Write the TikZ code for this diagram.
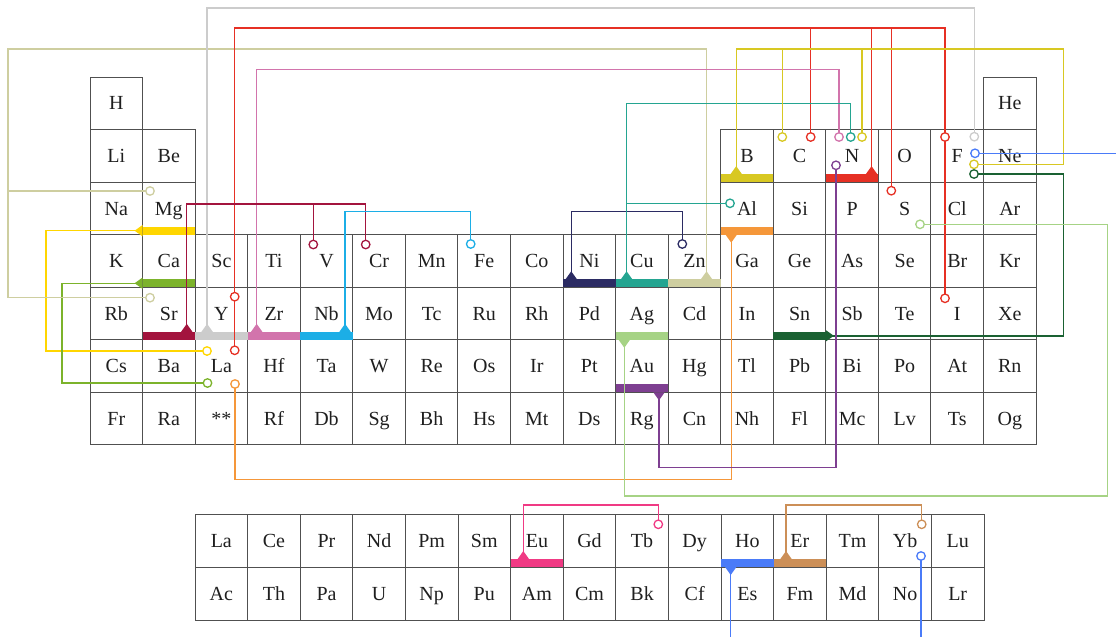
\documentclass[tikz,border=0pt]{standalone}
\usepackage{fontspec}
\setmainfont{Liberation Serif}
\usetikzlibrary{arrows.meta}

\definecolor{cellGray}{RGB}{80,80,80}
\definecolor{mgGold}{RGB}{255,214,0}
\definecolor{caGreen}{RGB}{124,179,43}
\definecolor{srCrimson}{RGB}{163,20,62}
\definecolor{yGray}{RGB}{204,204,204}
\definecolor{zrPink}{RGB}{210,116,172}
\definecolor{nbBlue}{RGB}{28,174,230}
\definecolor{niNavy}{RGB}{43,43,99}
\definecolor{cuTeal}{RGB}{36,165,145}
\definecolor{znKhaki}{RGB}{206,206,160}
\definecolor{bOlive}{RGB}{216,200,34}
\definecolor{nRed}{RGB}{230,48,36}
\definecolor{alOrange}{RGB}{245,151,58}
\definecolor{agGreen}{RGB}{166,211,133}
\definecolor{snGreen}{RGB}{26,97,50}
\definecolor{auPurple}{RGB}{126,63,145}
\definecolor{euPink}{RGB}{240,58,132}
\definecolor{hoBlue}{RGB}{74,123,248}
\definecolor{erTan}{RGB}{204,143,87}

\pgfdeclarelayer{grid}
\pgfdeclarelayer{links}
\pgfsetlayers{grid,links,main}

\begin{document}
\begin{tikzpicture}[x=1pt,y=-1pt,
  every node/.style={inner sep=0pt,outer sep=0pt},
  cell/.style={draw=cellGray,line width=1pt,minimum size=52.56pt,
    text height=13.2pt,text depth=0pt,
    font=\fontsize{20}{24}\selectfont,text=black!88},
  fcell/.style={cell,minimum width=52.6pt,minimum height=53pt},
  bar/.style={fill=#1,minimum width=52.56pt,minimum height=8pt,anchor=south},
  ring/.style={circle,draw=#1,fill=white,line width=1.3pt,minimum size=8.5pt},
  link/.style={draw=#1,line width=1.4pt},
  tipped/.style={{Triangle[reversed,width=11pt,length=8pt]}-},
  ]
  \useasboundingbox (0,0) rectangle (1116,637);

  \begin{pgfonlayer}{grid}
    % main table
    \foreach \sym/\c/\r in {H/1/1,He/18/1,
        Li/1/2,Be/2/2,B/13/2,C/14/2,N/15/2,O/16/2,F/17/2,Ne/18/2,
        Na/1/3,Mg/2/3,Al/13/3,Si/14/3,P/15/3,S/16/3,Cl/17/3,Ar/18/3,
        Fr/1/7,Ra/2/7}
      \node[cell] (el\sym) at ({90+52.56*(\c-0.5)},{77+52.56*(\r-0.5)}) {\sym};
    \foreach \r/\row in {
        4/{K,Ca,Sc,Ti,V,Cr,Mn,Fe,Co,Ni,Cu,Zn,Ga,Ge,As,Se,Br,Kr},
        5/{Rb,Sr,Y,Zr,Nb,Mo,Tc,Ru,Rh,Pd,Ag,Cd,In,Sn,Sb,Te,I,Xe},
        6/{Cs,Ba,La,Hf,Ta,W,Re,Os,Ir,Pt,Au,Hg,Tl,Pb,Bi,Po,At,Rn}}
      \foreach \sym [count=\c] in \row
        \node[cell] (el\sym) at ({90+52.56*(\c-0.5)},{77+52.56*(\r-0.5)}) {\sym};
    \node[cell] (elStar) at ({90+52.56*2.5},418.64) {**};
    \foreach \sym [count=\c from 4] in {Rf,Db,Sg,Bh,Hs,Mt,Ds,Rg,Cn,Nh,Fl,Mc,Lv,Ts,Og}
      \node[cell] (el\sym) at ({90+52.56*(\c-0.5)},418.64) {\sym};
    % f-block
    \foreach \sym [count=\k] in {La,Ce,Pr,Nd,Pm,Sm,Eu,Gd,Tb,Dy,Ho,Er,Tm,Yb,Lu}
      \node[fcell] (fb\sym) at ({195+52.6*(\k-0.5)},540.5) {\sym};
    \foreach \sym [count=\k] in {Ac,Th,Pa,U,Np,Pu,Am,Cm,Bk,Cf,Es,Fm,Md,No,Lr}
      \node[fcell] (fb\sym) at ({195+52.6*(\k-0.5)},593.5) {\sym};
    % bars
    \foreach \el/\col in {Mg/mgGold,Ca/caGreen,Sr/srCrimson,Y/yGray,Zr/zrPink,
        Nb/nbBlue,Ni/niNavy,Cu/cuTeal,Zn/znKhaki,B/bOlive,N/nRed,Al/alOrange,
        Ag/agGreen,Sn/snGreen,Au/auPurple}
      \node[bar=\col] (bar\el) at (el\el.south) {};
    \foreach \el/\col in {Eu/euPink,Ho/hoBlue,Er/erTan}
      \node[bar=\col] (bar\el) at (fb\el.south) {};
  \end{pgfonlayer}

  % feet of the links
  \coordinate (footSr) at ([xshift=44.2pt]barSr.north west);
  \coordinate (footY)  at ([xshift=12pt]barY.north west);
  \coordinate (footZr) at ([xshift=9pt]barZr.north west);
  \coordinate (footNb) at ([xshift=44.8pt]barNb.north west);
  \coordinate (footNi) at ([xshift=8.2pt]barNi.north west);
  \coordinate (footCu) at ([xshift=11pt]barCu.north west);
  \coordinate (footZn) at ([xshift=38.4pt]barZn.north west);
  \coordinate (footB)  at ([xshift=15.5pt]barB.north west);
  \coordinate (footN)  at ([xshift=45.7pt]barN.north west);
  \coordinate (footAl) at ([xshift=10.5pt]barAl.south west);
  \coordinate (footAg) at ([xshift=8.7pt]barAg.south west);
  \coordinate (footAu) at ([xshift=43.4pt]barAu.south west);
  \coordinate (footEu) at ([xshift=12.7pt]barEu.north west);
  \coordinate (footEr) at ([xshift=12.4pt]barEr.north west);
  \coordinate (footHo) at ([xshift=9.7pt]barHo.south west);

  % rings
  \foreach \name/\col/\x/\y in {
      ringLaGold/mgGold/207/351, ringLaGreen/caGreen/207.5/383,
      ringMg/znKhaki/150/191, ringSr/znKhaki/150/297.7,
      ringFGray/yGray/974.3/136.7,
      ringCRed/nRed/810.7/137, ringYRed/nRed/234.7/296.7,
      ringLaRed/nRed/234.7/350.3, ringSRed/nRed/891.3/190.7,
      ringFRed/nRed/945/137, ringIRed/nRed/945/298.3,
      ringNPink/zrPink/839/137,
      ringV/srCrimson/313.3/244.5, ringCr/srCrimson/365.7/244.5,
      ringFe/nbBlue/470.7/244, ringZn/niNavy/682.3/244,
      ringNTeal/cuTeal/850.7/137, ringAl/cuTeal/730/203.3,
      ringCOlive/bOlive/782.3/137, ringNOlive/bOlive/862/137,
      ringFOlive/bOlive/974/164.3,
      ringFBlue/hoBlue/975/153.3, ringYbBlue/hoBlue/921/556,
      ringFGreen/snGreen/974/174,
      ringLaOrange/alOrange/235/384,
      ringS/agGreen/920/224.3,
      ringNPurple/auPurple/836/165.3,
      ringTb/euPink/658.3/524.3, ringYbTan/erTan/921.7/524.3}
    \node[ring=\col] (\name) at (\x,\y) {};

  \begin{pgfonlayer}{links}
    % Mg, Ca
    \draw[link=mgGold,tipped] (barMg.west) -- ++(-96.5,0) |- (ringLaGold);
    \draw[link=caGreen,tipped] (barCa.west) -- ++(-80.5,0) |- (ringLaGreen);
    % Zn
    \draw[link=znKhaki,tipped] (footZn) |- (8,49) |- (ringSr);
    \draw[link=znKhaki] (ringMg) -- (ringMg -| 8,0);
    % Y
    \draw[link=yGray,tipped] (footY) |- (ringFGray |- 0,8) -- (ringFGray);
    % N
    \draw[link=nRed,tipped] (footN) |- (ringLaRed |- 0,28) -- (ringLaRed);
    \draw[link=nRed] (ringIRed) |- (ringCRed |- 0,28);
    \draw[link=nRed] (ringCRed) -- (ringCRed |- 0,28);
    \draw[link=nRed] (ringSRed) -- (ringSRed |- 0,28);
    % Zr
    \draw[link=zrPink,tipped] (footZr) |- (ringNPink |- 0,69.3) -- (ringNPink);
    % Sr
    \draw[link=srCrimson,tipped] (footSr) |- (ringCr |- 0,204) -- (ringCr);
    \draw[link=srCrimson] (ringV) -- (ringV |- 0,204);
    % Nb, Ni
    \draw[link=nbBlue,tipped] (footNb) |- (ringFe |- 0,211.7) -- (ringFe);
    \draw[link=niNavy,tipped] (footNi) |- (ringZn |- 0,211.7) -- (ringZn);
    % Cu
    \draw[link=cuTeal,tipped] (footCu) |- (ringNTeal |- 0,103.3) -- (ringNTeal);
    \draw[link=cuTeal] (ringAl) -- (ringAl -| footCu);
    % B
    \draw[link=bOlive,tipped] (footB) |- (1063.3,49) |- (ringFOlive);
    \draw[link=bOlive] (ringCOlive) -- (ringCOlive |- 0,49);
    \draw[link=bOlive] (ringNOlive) -- (ringNOlive |- 0,49);
    % Sn
    \draw[link=snGreen,tipped] (barSn.east) -| (1063.3,174) -- (ringFGreen);
    % Al, Ag, Au
    \draw[link=alOrange,tipped] (footAl) |- (ringLaOrange |- 0,479.3) -- (ringLaOrange);
    \draw[link=agGreen,tipped] (footAg) |- (1107.3,496) |- (ringS);
    \draw[link=auPurple,tipped] (footAu) |- (ringNPurple |- 0,467.3) -- (ringNPurple);
    % f-block
    \draw[link=euPink,tipped] (footEu) |- (ringTb |- 0,505) -- (ringTb);
    \draw[link=erTan,tipped] (footEr) |- (ringYbTan |- 0,505) -- (ringYbTan);
    \draw[link=hoBlue,tipped] (footHo) -- (footHo |- 0,637);
    \draw[link=hoBlue] (ringFBlue) -- (ringFBlue -| 1116,0);
    \draw[link=hoBlue] (ringYbBlue) -- (ringYbBlue |- 0,637);
  \end{pgfonlayer}
\end{tikzpicture}
\end{document}
